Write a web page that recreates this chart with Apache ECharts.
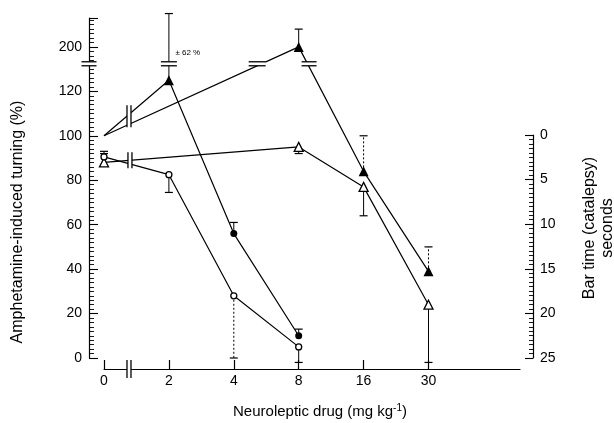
<!DOCTYPE html>
<html><head><meta charset="utf-8">
<script src="https://cdn.jsdelivr.net/npm/echarts@6/dist/echarts.min.js"></script>
<style>html,body{margin:0;padding:0;background:#fff}#c{width:614px;height:423px}</style>
</head><body><div id="c"></div>
<script>
// ---------- data ----------
const doseLabels = ['0', '2', '4', '8', '16', '30'];
const leftTickValues = [0, 20, 40, 60, 80, 100, 120, 200];
const rightTickValues = [0, 5, 10, 15, 20, 25];

// [dose index, % value]
const filledTriangle = [[0, 100], [3, 200], [4, 84], [5, 39]];
const filledTriangleErr = [[3, 208], [4, 100], [5, 50]];
const filledCircle = [[0, 100], [1, 125], [2, 56], [3, 10]];
const filledCircleErr = [[1, 215], [2, 61], [3, 13]];
const openTriangle = [[0, 88], [3, 95], [4, 77], [5, 24]];
const openTriangleErr = [[0, 92], [3, 92], [4, 64], [5, -2]];
const openCircle = [[0, 90.5], [1, 82.5], [2, 28], [3, 5]];
const openCircleErr = [[0, 93], [1, 74.5], [2, 0], [3, -2]];
const errLabel = '± 62 %';

// ---------- scale break: values above the break are shown 60 units lower ----------
const BREAK_AT = 133, BREAK_SHIFT = 60;
const disp = v => v > BREAK_AT ? v - BREAK_SHIFT : v;

const chart = echarts.init(document.getElementById('c'), null, {renderer: 'canvas'});
const FONT = 'Liberation Sans';

function lineSeries(data, symbol, size, filled, noSymbolIdx, overrides) {
  return {
    type: 'line', xAxisIndex: 0, yAxisIndex: 0, z: 5,
    data: data.map((d, i) => {
      const item = {value: [d[0], disp(d[1])]};
      if (noSymbolIdx.includes(i)) item.symbol = 'none';
      if (overrides && overrides[i]) Object.assign(item, overrides[i]);
      return item;
    }),
    symbol: symbol, symbolSize: size, showSymbol: true,
    lineStyle: {color: '#000', width: 1.2},
    itemStyle: {color: filled ? '#000' : '#fff', borderColor: '#000', borderWidth: filled ? 0 : 1.3},
    animation: false, silent: true
  };
}

function errData(points, errs, dotted) {
  return errs.map(e => {
    const p = points.find(q => q[0] === e[0]);
    return [e[0], disp(p[1]), disp(e[1]), dotted.includes(e[0]) ? 1 : 0];
  });
}

const errRows = []
  .concat(errData(filledTriangle, filledTriangleErr, [4, 5]))
  .concat(errData(filledCircle, filledCircleErr, []))
  .concat(errData(openTriangle, openTriangleErr, []))
  .concat(errData(openCircle, openCircleErr, [2]));

const errSeries = {
  type: 'custom', xAxisIndex: 0, yAxisIndex: 0, z: 3, clip: false, silent: true, animation: false,
  data: errRows,
  renderItem: (params, api) => {
    const a = api.coord([api.value(0), api.value(1)]);
    const b = api.coord([api.value(0), api.value(2)]);
    const dotted = api.value(3) === 1;
    return {type: 'group', children: [
      {type: 'line', shape: {x1: a[0], y1: a[1], x2: b[0], y2: b[1]},
       style: {stroke: '#000', lineWidth: 1, lineDash: dotted ? [2, 2] : null}},
      {type: 'line', shape: {x1: b[0] - 4, y1: b[1], x2: b[0] + 4, y2: b[1]},
       style: {stroke: '#000', lineWidth: 1.2}}
    ]};
  }
};

// break marks: [x index, display value, vertical?, length]
const breakRows = [
  [-0.231, 132.4, 0, 15],
  [1, 132.4, 0, 16],
  [2.36, 132.4, 0, 17],
  [3.16, 132.4, 0, 15],
  [0.385, -4.9, 1, 18],
  [0.385, 108.8, 1, 22],
  [0.4, 89, 1, 16]
];
const breakSeries = {
  type: 'custom', xAxisIndex: 0, yAxisIndex: 0, z: 8, clip: false, silent: true, animation: false,
  data: breakRows,
  renderItem: (params, api) => {
    const c = api.coord([api.value(0), api.value(1)]);
    const vert = api.value(2) === 1;
    const L = api.value(3) / 2, g = 2;
    if (vert) {
      return {type: 'group', children: [
        {type: 'rect', shape: {x: c[0] - g, y: c[1] - L, width: 2 * g, height: 2 * L}, style: {fill: '#fff'}},
        {type: 'line', shape: {x1: c[0] - g, y1: c[1] - L, x2: c[0] - g, y2: c[1] + L}, style: {stroke: '#000', lineWidth: 1.3}},
        {type: 'line', shape: {x1: c[0] + g, y1: c[1] - L, x2: c[0] + g, y2: c[1] + L}, style: {stroke: '#000', lineWidth: 1.3}}
      ]};
    }
    return {type: 'group', children: [
      {type: 'rect', shape: {x: c[0] - L, y: c[1] - g, width: 2 * L, height: 2 * g}, style: {fill: '#fff'}},
      {type: 'line', shape: {x1: c[0] - L, y1: c[1] - g, x2: c[0] + L, y2: c[1] - g}, style: {stroke: '#000', lineWidth: 1.3}},
      {type: 'line', shape: {x1: c[0] - L, y1: c[1] + g, x2: c[0] + L, y2: c[1] + g}, style: {stroke: '#000', lineWidth: 1.3}}
    ]};
  }
};

const noteSeries = {
  type: 'custom', xAxisIndex: 0, yAxisIndex: 0, z: 8, clip: false, silent: true, animation: false,
  data: [[1.1, 137.5]],
  renderItem: (params, api) => {
    const c = api.coord([api.value(0), api.value(1)]);
    return {type: 'text', x: c[0], y: c[1],
      style: {text: errLabel, fill: '#000', font: '8px ' + FONT, verticalAlign: 'middle', align: 'left'}};
  }
};

const option = {
  backgroundColor: '#fff',
  animation: false,
  grid: [
    {left: 104, right: 94, top: 18, bottom: 65},
    {left: 104, right: 94, top: 135, bottom: 65}
  ],
  xAxis: [
    {type: 'value', gridIndex: 0, min: 0, max: 6.41, offset: 11, position: 'bottom',
     splitLine: {show: false},
     axisLine: {show: true, onZero: false, lineStyle: {color: '#000', width: 1.2}},
     axisTick: {show: true, inside: true, length: 9, customValues: [0, 1, 2, 3, 4, 5], lineStyle: {color: '#000', width: 1.2}},
     axisLabel: {customValues: [0, 1, 2, 3, 4, 5], formatter: v => doseLabels[Math.round(v)] || '',
       color: '#000', fontFamily: FONT, fontSize: 14, margin: 5}},
    {type: 'value', gridIndex: 1, min: 0, max: 1, show: false}
  ],
  yAxis: [
    {type: 'value', gridIndex: 0, position: 'left', min: 0, max: 153, interval: 20, offset: 15,
     splitLine: {show: false},
     axisLine: {show: true, onZero: false, lineStyle: {color: '#000', width: 1.2}},
     axisTick: {show: true, inside: true, length: 9, lineStyle: {color: '#000', width: 1.1}},
     minorTick: {show: true, splitNumber: 10, length: 5, lineStyle: {color: '#000', width: 0.9}},
     axisLabel: {formatter: v => {
         if (v === 140) return String(leftTickValues[7]);
         return leftTickValues.slice(0, 7).includes(v) ? String(v) : '';
       }, color: '#000', fontFamily: FONT, fontSize: 14, margin: 7}},
    {type: 'value', gridIndex: 1, position: 'right', min: 0, max: 25, interval: 5, inverse: true, offset: 13,
     splitLine: {show: false},
     axisLine: {show: true, onZero: false, lineStyle: {color: '#000', width: 1.2}},
     axisTick: {show: true, inside: true, length: 8, lineStyle: {color: '#000', width: 1.1}},
     minorTick: {show: true, splitNumber: 10, length: 4, lineStyle: {color: '#000', width: 0.9}},
     axisLabel: {formatter: v => rightTickValues.includes(v) ? String(v) : '',
       color: '#000', fontFamily: FONT, fontSize: 14, margin: 7}}
  ],
  graphic: [
    {type: 'text', x: 18, y: 222, rotation: Math.PI / 2,
     style: {text: 'Amphetamine-induced turning (%)', font: '16px ' + FONT, fill: '#000', align: 'center', verticalAlign: 'middle'}},
    {type: 'text', x: 599, y: 228, rotation: Math.PI / 2,
     style: {text: 'Bar time (catalepsy)\nseconds', font: '16px ' + FONT, fill: '#000', align: 'center', verticalAlign: 'middle', lineHeight: 18}},
    {type: 'text', x: 320, y: 412,
     style: {rich: {n: {fontFamily: FONT, fontSize: 15, fill: '#000'}, s: {fontFamily: FONT, fontSize: 10, fill: '#000', verticalAlign: 'top', padding: [0, 0, 7, 0]}},
       text: '{n|Neuroleptic drug (mg kg}{s|-1}{n|)}', align: 'center', verticalAlign: 'middle'}}
  ],
  series: [
    errSeries,
    lineSeries(filledTriangle, 'triangle', 10, true, [0]),
    lineSeries(filledCircle, 'circle', 7, true, [0], {1: {symbol: 'triangle', symbolSize: 10}}),
    lineSeries(openTriangle, 'triangle', 9, false, []),
    lineSeries(openCircle, 'circle', 6, false, []),
    breakSeries,
    noteSeries
  ]
};
chart.setOption(option);
</script>
</body></html>
